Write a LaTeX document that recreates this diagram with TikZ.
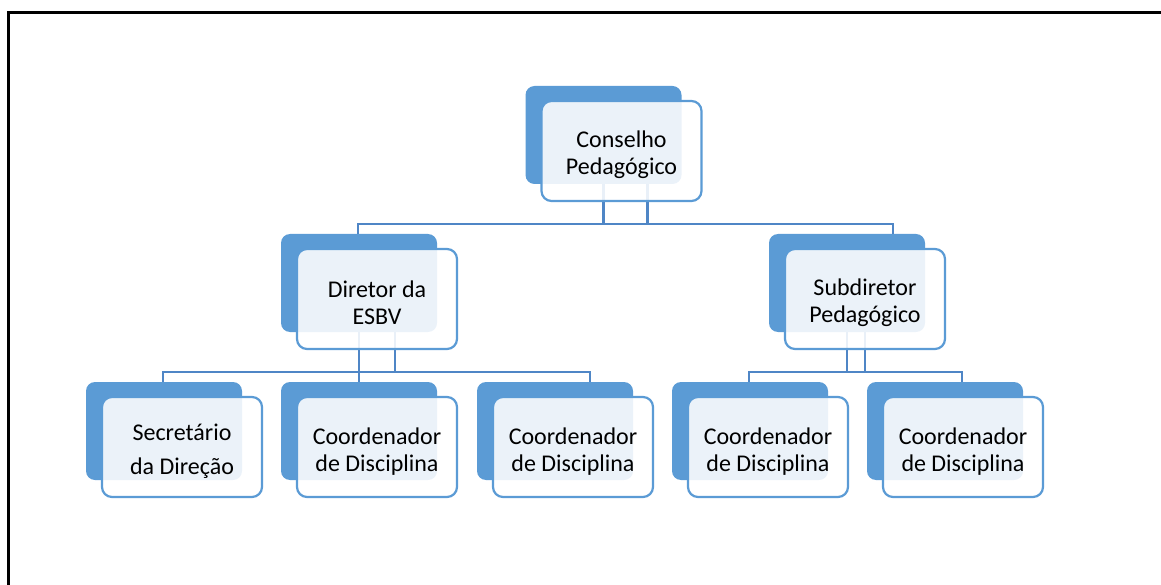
\documentclass[tikz,border=0pt]{standalone}
\usepackage{fontspec}
\setmainfont{Carlito}
\definecolor{boxblue}{HTML}{5B9BD5}
\definecolor{linkblue}{HTML}{4F86C6}
\newcommand\txtdown{\rule{0pt}{25pt}}
\begin{document}
\begin{tikzpicture}[x=1pt,y=-1pt,
  backbox/.style={draw=none,fill=boxblue,rounded corners=9pt,minimum width=156pt,minimum height=98pt,inner sep=0pt},
  frontbox/.style={draw=boxblue,line width=2.2pt,fill=white,fill opacity=0.88,text opacity=1,rounded corners=10pt,minimum width=160pt,minimum height=100pt,inner sep=0pt,align=center,font=\fontsize{24}{27}\selectfont},
  conn/.style={draw=linkblue,line width=2.4pt},
  frame/.style={draw=black,line width=3pt}]
\useasboundingbox (0,0) rectangle (1161,585);
\draw[frame] (8.5,585) -- (8.5,12.5) -- (1161,12.5);
% back boxes
\node[backbox] (tb) at (603.5,135) {};
\node[backbox] (db) at (359,283) {};
\node[backbox] (sb) at (847,283) {};
\node[backbox] (b1) at (164,431) {};
\node[backbox] (b2) at (359,431) {};
\node[backbox] (b3) at (555,431) {};
\node[backbox] (b4) at (750,431) {};
\node[backbox] (b5) at (945,431) {};
% junction coordinates
\coordinate (jt) at (603.5,224);
\coordinate (jtl) at (358,224);
\coordinate (jtr) at (893,224);
\coordinate (jd) at (359,372);
\coordinate (jdl) at (163,372);
\coordinate (jdr) at (590,372);
\coordinate (js) at (847,372);
\coordinate (jsl) at (749,372);
\coordinate (jsr) at (962,372);
% connectors
\draw[conn] (tb.south) -- (jt);
\draw[conn] ([xshift=44pt]tb.south) -- ([xshift=44pt]jt);
\draw[conn] (jtl |- db.north) -- (jtl) -- (jtr) -- (jtr |- sb.north);
\draw[conn] (db.south) -- (jd) -- (jd |- b2.north);
\draw[conn] ([xshift=36pt]db.south) -- ([xshift=36pt]jd);
\draw[conn] (jdl |- b1.north) -- (jdl) -- (jdr) -- (jdr |- b3.north);
\draw[conn] (sb.south) -- (js);
\draw[conn] ([xshift=18pt]sb.south) -- ([xshift=18pt]js);
\draw[conn] (jsl |- b4.north) -- (jsl) -- (jsr) -- (jsr |- b5.north);
% front boxes
\node[frontbox] (tf) at (621.5,151) {\txtdown Conselho\\Pedagógico};
\node[frontbox] (df) at (377,299) {\txtdown Diretor da\\ESBV};
\node[frontbox] (sf) at (865,299) {\txtdown Subdiretor\\Pedagógico};
\node[frontbox] (f1) at (182,447) {\txtdown Secretário\\[7pt]da Direção};
\node[frontbox] (f2) at (377,447) {\txtdown Coordenador\\de Disciplina};
\node[frontbox] (f3) at (573,447) {\txtdown Coordenador\\de Disciplina};
\node[frontbox] (f4) at (768,447) {\txtdown Coordenador\\de Disciplina};
\node[frontbox] (f5) at (963,447) {\txtdown Coordenador\\de Disciplina};
\end{tikzpicture}
\end{document}
